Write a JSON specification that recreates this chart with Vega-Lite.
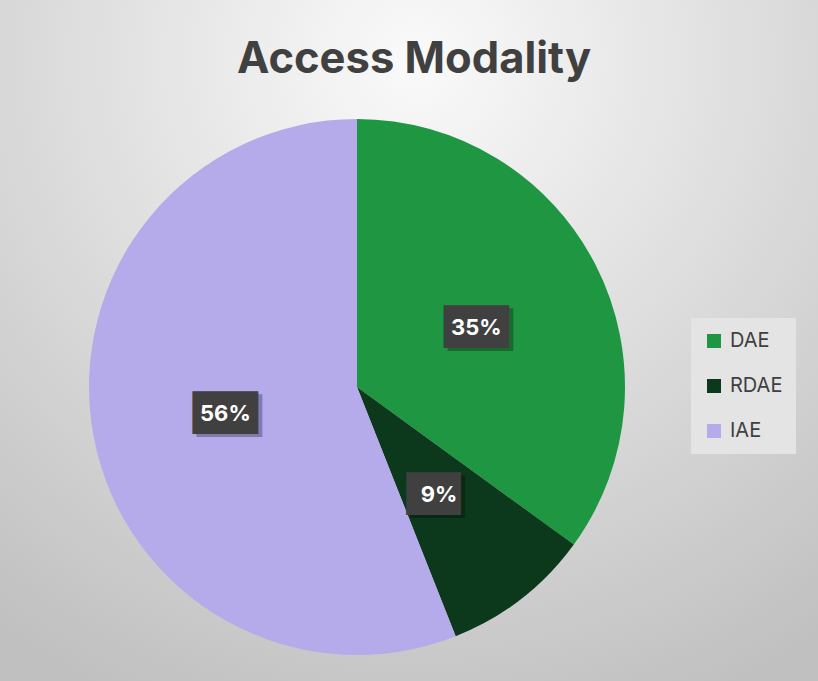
{
  "$schema": "https://vega.github.io/schema/vega-lite/v6.json",
  "width": 536,
  "height": 536,
  "autosize": {"type": "none"},
  "padding": {"left": 89, "top": 119, "right": 193, "bottom": 26},
  "background": "#ffffff",
  "title": {
    "text": "Access Modality",
    "font": "Inter",
    "fontSize": 43.5,
    "fontWeight": "bold",
    "color": "#404040",
    "anchor": "middle",
    "frame": "group",
    "dx": 57,
    "offset": -305
  },
  "config": {"view": {"stroke": null}},
  "datasets": {
    "main": [
      {"Modality": "DAE", "share": 35, "rank": 1},
      {"Modality": "RDAE", "share": 9, "rank": 2},
      {"Modality": "IAE", "share": 56, "rank": 3}
    ]
  },
  "layer": [
    {
      "data": {"values": [{"bg": 1}]},
      "mark": {
        "type": "arc",
        "radius": 610,
        "theta": 0,
        "theta2": 6.2832,
        "stroke": null,
        "fill": {
          "gradient": "radial",
          "x1": 0.5475, "y1": 0.232, "r1": 0,
          "x2": 0.5475, "y2": 0.232, "r2": 0.574,
          "stops": [
            {"offset": 0, "color": "#fafafa"},
            {"offset": 1, "color": "#c0c0c0"}
          ]
        }
      },
      "encoding": {}
    },
    {
      "data": {"name": "main"},
      "mark": {"type": "arc", "outerRadius": 268, "stroke": null},
      "encoding": {
        "theta": {"field": "share", "type": "quantitative", "stack": true},
        "order": {"field": "rank"},
        "color": {
          "field": "Modality",
          "type": "nominal",
          "scale": {"domain": ["DAE", "RDAE", "IAE"], "range": ["#1f9641", "#0c381c", "#b5aaea"]},
          "legend": {
            "title": null,
            "orient": "none",
            "legendX": 602,
            "legendY": 199,
            "symbolType": "square",
            "symbolSize": 196,
            "symbolStrokeWidth": 0,
            "labelFont": "Inter",
            "labelFontSize": 20,
            "labelColor": "#404040",
            "labelOffset": 6,
            "fillColor": "#e4e4e4",
            "padding": 13,
            "rowPadding": 25
          }
        }
      }
    },
    {
      "data": {"name": "main"},
      "transform": [{"calculate": "datum.share >= 10 ? '███' : '██▌'", "as": "box"}],
      "mark": {"type": "text", "radius": 134, "font": "DejaVu Sans Mono", "fontSize": 36, "color": "#000000", "opacity": 0.28, "dx": 4, "dy": 5, "baseline": "middle"},
      "encoding": {
        "theta": {"field": "share", "type": "quantitative", "stack": true},
        "order": {"field": "rank"},
        "text": {"field": "box"}
      }
    },
    {
      "data": {"name": "main"},
      "transform": [{"calculate": "datum.share >= 10 ? '███' : '██▌'", "as": "box"}],
      "mark": {"type": "text", "radius": 134, "font": "DejaVu Sans Mono", "fontSize": 36, "color": "#404040", "baseline": "middle", "dy": 2},
      "encoding": {
        "theta": {"field": "share", "type": "quantitative", "stack": true},
        "order": {"field": "rank"},
        "text": {"field": "box"}
      }
    },
    {
      "data": {"name": "main"},
      "transform": [{"calculate": "datum.share + '%'", "as": "label"}],
      "mark": {"type": "text", "radius": 134, "font": "Inter", "fontSize": 22, "fontWeight": "bold", "color": "#ffffff", "baseline": "middle", "dy": 2},
      "encoding": {
        "theta": {"field": "share", "type": "quantitative", "stack": true},
        "order": {"field": "rank"},
        "text": {"field": "label"}
      }
    }
  ]
}
